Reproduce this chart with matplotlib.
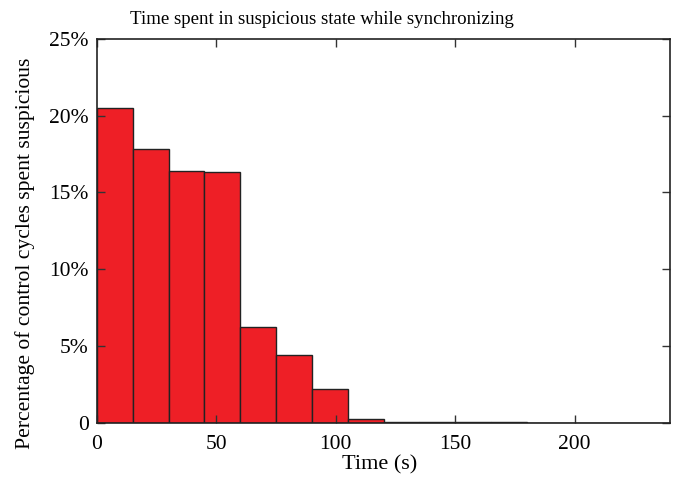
import numpy as np
import matplotlib.pyplot as plt
from matplotlib.ticker import FuncFormatter

plt.rcParams['font.family'] = ['Liberation Serif', 'DejaVu Serif']

# histogram data: bin edges (s) and share of control cycles (%)
bin_edges = [0, 15, 30, 45, 60, 75, 90, 105, 120, 135, 150, 165, 180, 195, 210, 225, 240]
percent = [20.49, 17.81, 16.38, 16.31, 6.27, 4.42, 2.22, 0.27,
           0.04, 0.04, 0.04, 0.04, 0.01, 0.01, 0.01, 0.0]
x_ticks = [0, 50, 100, 150, 200]
y_ticks = [0, 5, 10, 15, 20, 25]

fig = plt.figure(figsize=(6.83, 4.79), dpi=100)
ax = fig.add_axes([0.142, 0.117, 0.839, 0.802])

edges = np.array(bin_edges)
ax.bar(edges[:-1], percent, width=np.diff(edges), align='edge',
       color='#ee1f26', edgecolor='#222222', linewidth=1.0)

ax.set_xlim(0, 240)
ax.set_ylim(0, 25)
ax.set_xticks(x_ticks)
ax.set_yticks(y_ticks)
ax.yaxis.set_major_formatter(FuncFormatter(lambda v, p: '0' if v == 0 else '%d%%' % v))
ax.tick_params(direction='in', top=True, right=True, length=6, width=1,
               labelsize=15.5, pad=6, color='#333333')
ax.tick_params(axis='x', pad=9)
for s in ax.spines.values():
    s.set_linewidth(1.2)
    s.set_color('#222222')

fig.text(322 / 683, 1 - 19 / 479, 'Time spent in suspicious state while synchronizing',
         fontsize=13.6, ha='center', va='center')
ax.set_xlabel('Time (s)', fontsize=16)
ax.xaxis.set_label_coords(0.493, -0.084)
ax.set_ylabel('Percentage of control cycles spent suspicious', fontsize=15.6)
ax.yaxis.set_label_coords(-0.108, 0.441)

fig.savefig('out.png', dpi=100)
